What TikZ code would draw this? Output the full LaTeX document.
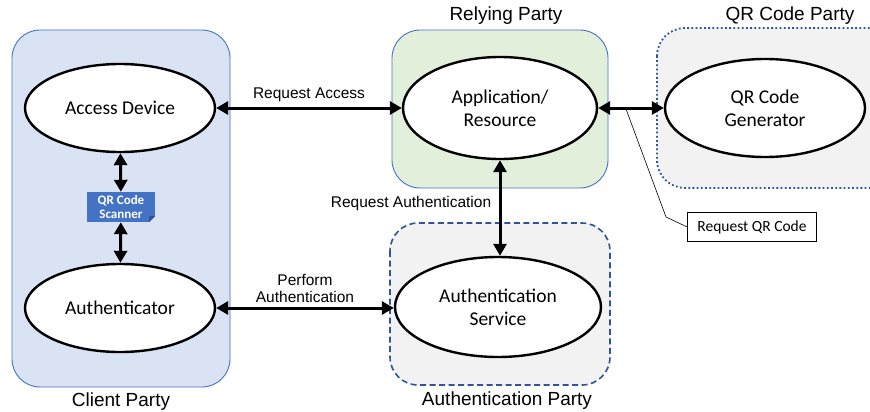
\documentclass[tikz,border=0pt]{standalone}
\usepackage{fontspec}
\setmainfont{Carlito}
\newfontfamily\arialfont{Liberation Sans}
\usetikzlibrary{arrows.meta,positioning,shapes.geometric}
\definecolor{clientblue}{RGB}{218,227,243}
\definecolor{relygreen}{RGB}{226,239,218}
\definecolor{partygray}{RGB}{242,242,242}
\definecolor{edgeblue}{RGB}{68,114,196}
\definecolor{darkblue}{RGB}{47,85,151}
\definecolor{scanblue}{RGB}{68,114,196}
\tikzset{
  party/.style={rounded corners=28pt,line width=0.9pt},
  entity/.style={ellipse,draw=black,fill=white,line width=2.4pt,inner sep=0pt,
    align=center,font=\fontsize{19.5}{23}\selectfont},
  link/.style={line width=3pt,{Triangle[length=12pt,width=13pt]}-{Triangle[length=12pt,width=13pt]}},
  partylabel/.style={font=\arialfont\fontsize{19}{22}\selectfont},
  linklabel/.style={font=\arialfont\fontsize{15.5}{17}\selectfont,align=center}
}
\begin{document}
\begin{tikzpicture}[x=1pt,y=-1pt]
  \useasboundingbox (0,0) rectangle (870,412);
  % party areas
  \draw[party,fill=clientblue,draw=edgeblue] (12,30) rectangle (230,387);
  \draw[party,fill=relygreen,draw=edgeblue] (392,30) rectangle (608,188);
  \draw[party,fill=partygray,draw=darkblue,line width=1.6pt,dash pattern=on 6pt off 3.5pt] (390,223) rectangle (610,385);
  \draw[party,fill=partygray,draw=darkblue,line width=1.8pt,dash pattern=on 1.8pt off 2.4pt] (657,28) rectangle (900,188);
  \node[partylabel] (clientlbl) at (121,402) {Client Party};
  \node[partylabel] (relylbl) at (506,16) {Relying Party};
  \node[partylabel] (authlbl) at (507,401) {Authentication Party};
  \node[partylabel] (qrlbl) at (790,16) {QR Code Party};
  % entities
  \node[entity,minimum width=190pt,minimum height=88pt] (device) at (120,108) {Access Device};
  \node[entity,minimum width=190pt,minimum height=88pt] (authr) at (120,308) {Authenticator};
  \node[entity,minimum width=194pt,minimum height=102pt] (app) at (500,108) {Application/\\Resource};
  \node[entity,minimum width=206pt,minimum height=100pt] (authsvc) at (498,307) {Authentication\\Service};
  \node[entity,minimum width=200pt,minimum height=98pt] (qrgen) at (765,108) {QR Code\\Generator};
  % scanner
  \node[fill=scanblue,text=white,font=\bfseries\fontsize{13}{14.5}\selectfont,align=center,
    minimum width=68pt,minimum height=30pt,inner sep=0pt] (scanner) at (121,207) {QR Code\\Scanner};
  \fill[clientblue] (scanner.south east) -- ++(-6,0) -- ++(6,-6) -- cycle;
  \fill[darkblue] (scanner.south east) ++(-6,0) -- ++(0,-6) -- ++(6,0) -- cycle;
  % connectors
  \draw[link] (device) -- (scanner);
  \draw[link] (scanner) -- (authr);
  \draw[link] (device) -- node[linklabel,above=1pt] (accesslbl) {Request Access} (app);
  \draw[link] (app.east) -- (qrgen.west |- app.east);
  \draw[link] (app.south) -- node[linklabel,left=4pt,pos=0.45] (reqauthlbl) {Request Authentication} (app.south |- authsvc.north);
  \draw[link] (authr.east) -- node[linklabel,above=1pt] (performlbl) {Perform\\Authentication} (authsvc.west |- authr.east);
  % callout
  \node[draw=black,fill=white,line width=0.6pt,font=\fontsize{15.5}{18}\selectfont,
    minimum width=129pt,minimum height=29pt] (reqqr) at (752,227) {Request QR Code};
  \coordinate (qrtip) at (626,109);
  \draw[line width=0.6pt] (reqqr.west) -- (666,217) -- (qrtip);
\end{tikzpicture}
\end{document}
